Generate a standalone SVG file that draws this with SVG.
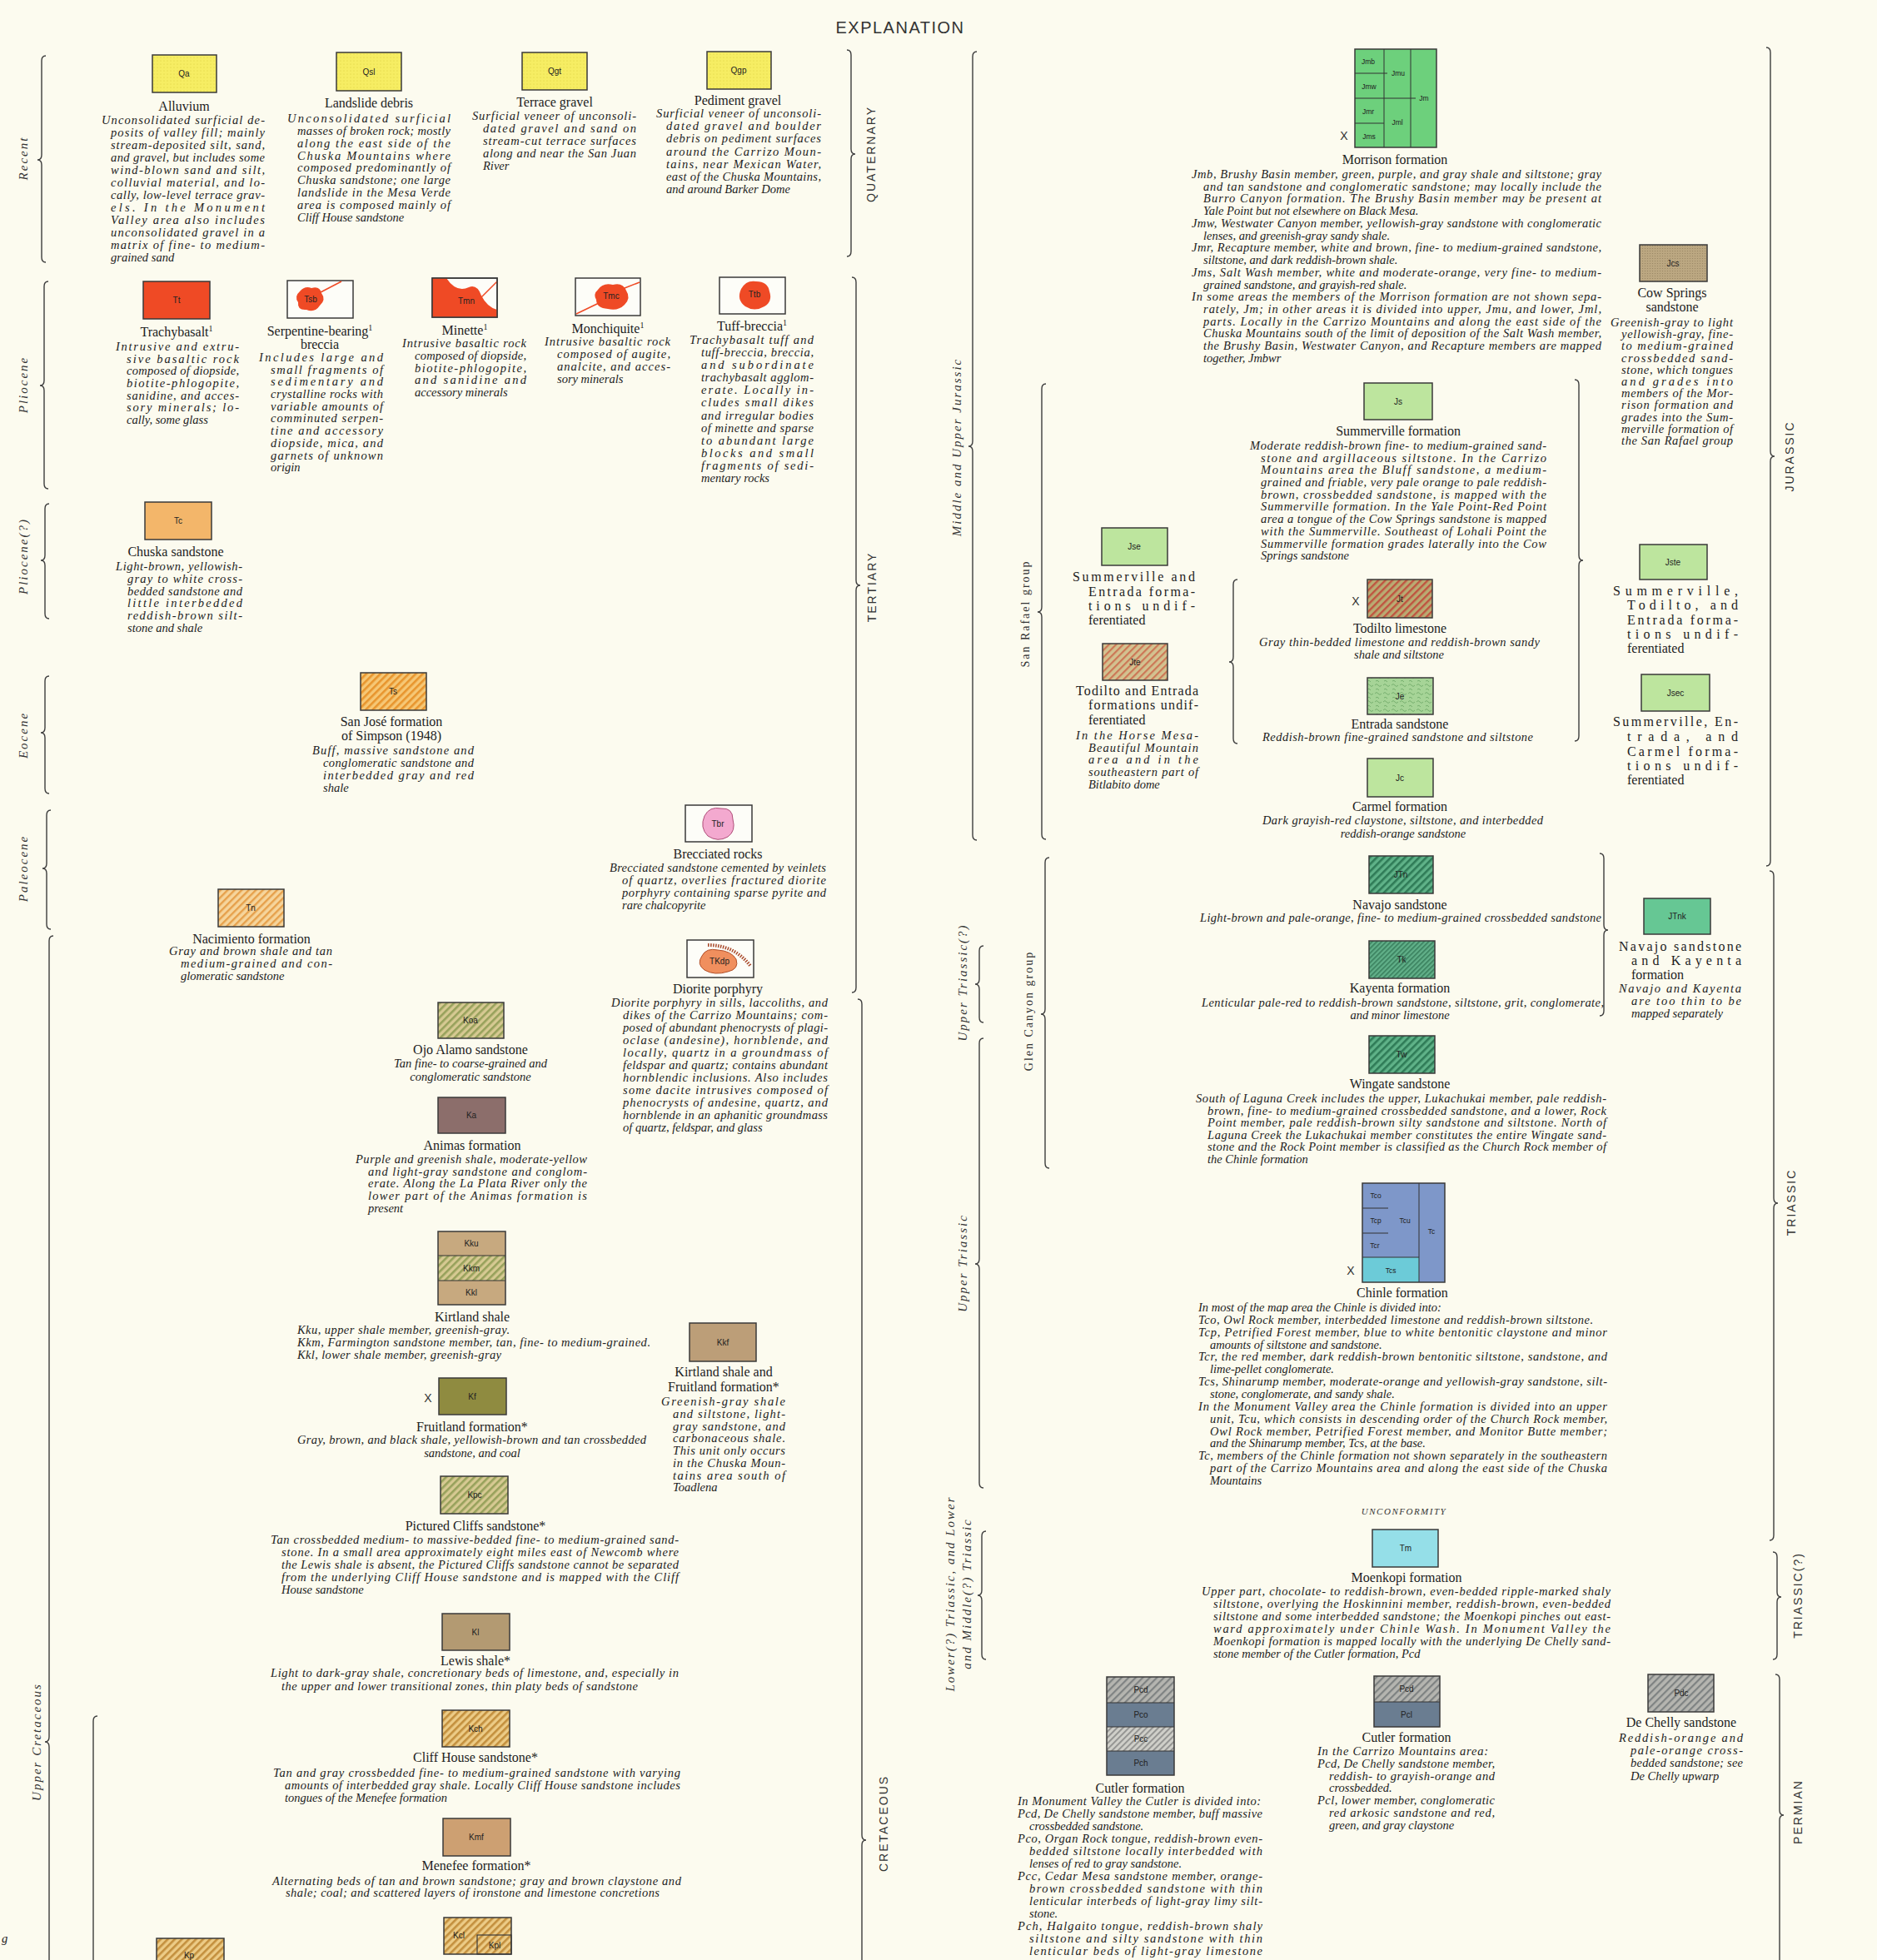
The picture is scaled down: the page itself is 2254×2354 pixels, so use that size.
<svg xmlns="http://www.w3.org/2000/svg" width="2254" height="2354" viewBox="0 0 2254 2354">
<style>
.t{font-family:"Liberation Serif",serif;font-size:16px;fill:#222;text-anchor:middle}
.tl{font-family:"Liberation Serif",serif;font-size:16px;fill:#222}
.d{font-family:"Liberation Serif",serif;font-style:italic;font-size:14.5px;fill:#222}
.dc{font-family:"Liberation Serif",serif;font-style:italic;font-size:14.5px;fill:#222;text-anchor:middle}
.lb{font-family:"Liberation Sans",sans-serif;font-size:10px;fill:#222;text-anchor:middle}
.ls{font-family:"Liberation Sans",sans-serif;font-size:8.5px;fill:#222;text-anchor:middle}
.x{font-family:"Liberation Sans",sans-serif;font-size:14px;fill:#333;text-anchor:middle}
.age{font-family:"Liberation Serif",serif;font-style:italic;font-size:15px;letter-spacing:2px;fill:#333;text-anchor:middle}
.per{font-family:"Liberation Sans",sans-serif;font-size:14px;letter-spacing:2px;fill:#333;text-anchor:middle}
.grp{font-family:"Liberation Serif",serif;font-size:14px;letter-spacing:2px;fill:#333;text-anchor:middle}
.br{fill:none;stroke:#3d3d3d;stroke-width:1.4}
.bx{stroke:#3a3a3a;stroke-width:1.5}
.wb{fill:#fdfdf8;stroke:#3a3a3a;stroke-width:1.5}
.ln{stroke:#333;stroke-width:1;fill:none}
.sup{font-size:10px}
.rd{fill:#ef4a25}
</style>
<defs>
<pattern id="pQ" width="4" height="4" patternUnits="userSpaceOnUse"><rect width="4" height="4" fill="#f6ed63"/><circle cx="1" cy="1" r="0.6" fill="#dccf3c"/></pattern>
<pattern id="hTs" width="6" height="6" patternUnits="userSpaceOnUse" patternTransform="rotate(-45)"><rect width="6" height="6" fill="#f6c775"/><rect width="6" height="2.6" fill="#e8952e"/></pattern>
<pattern id="hTn" width="6" height="6" patternUnits="userSpaceOnUse" patternTransform="rotate(-45)"><rect width="6" height="6" fill="#f6d59c"/><rect width="6" height="2.4" fill="#e6a04b"/></pattern>
<pattern id="hKoa" width="6" height="6" patternUnits="userSpaceOnUse" patternTransform="rotate(-45)"><rect width="6" height="6" fill="#d6c992"/><rect width="6" height="2.6" fill="#97a15b"/></pattern>
<pattern id="hKch" width="6" height="6" patternUnits="userSpaceOnUse" patternTransform="rotate(-45)"><rect width="6" height="6" fill="#eccb86"/><rect width="6" height="2.6" fill="#c38f3d"/></pattern>
<pattern id="hJt" width="6" height="6" patternUnits="userSpaceOnUse" patternTransform="rotate(-45)"><rect width="6" height="6" fill="#b9ab72"/><rect width="6" height="2.4" fill="#bf5440"/></pattern>
<pattern id="hJte" width="6" height="6" patternUnits="userSpaceOnUse" patternTransform="rotate(-45)"><rect width="6" height="6" fill="#d3c290"/><rect width="6" height="2.2" fill="#cc7756"/></pattern>
<pattern id="hJn" width="6" height="6" patternUnits="userSpaceOnUse" patternTransform="rotate(-45)"><rect width="6" height="6" fill="#5fb288"/><rect width="6" height="2.6" fill="#2f7b57"/></pattern>
<pattern id="hJk" width="4" height="4" patternUnits="userSpaceOnUse" patternTransform="rotate(-45)"><rect width="4" height="4" fill="#61b089"/><rect width="4" height="1.6" fill="#397f5d"/></pattern>
<pattern id="hPg" width="6" height="6" patternUnits="userSpaceOnUse" patternTransform="rotate(-45)"><rect width="6" height="6" fill="#b5b5b0"/><rect width="6" height="2.2" fill="#7e8282"/></pattern>
<pattern id="hPc" width="5" height="5" patternUnits="userSpaceOnUse" patternTransform="rotate(-45)"><rect width="5" height="5" fill="#cfcfc9"/><rect width="5" height="1.8" fill="#8e8f8d"/></pattern>
<pattern id="pJe" width="10" height="10" patternUnits="userSpaceOnUse"><rect width="10" height="10" fill="#a6d497"/><path d="M1,3 q2,-3 4,0 t4,0 M2,8 q2,-2 4,1" stroke="#6aa663" fill="none" stroke-width="0.8"/></pattern>
<pattern id="pJcs" width="3" height="3" patternUnits="userSpaceOnUse"><rect width="3" height="3" fill="#bba781"/><circle cx="1.5" cy="1.5" r="0.6" fill="#968360"/></pattern>
</defs>
<rect width="2254" height="2354" fill="#fcfbef"/>
<text x="1081" y="40" style="font-family:'Liberation Sans',sans-serif;font-size:20px;letter-spacing:1.5px;fill:#333;text-anchor:middle">EXPLANATION</text>

<g id="connectors">
<path class="br" d="M55,67 Q50,67 50,73 V186 Q50,192 45,192 Q50,192 50,198 V309 Q50,315 55,315"/>
<path class="br" d="M58,338 Q53,338 53,344 V457 Q53,463 48,463 Q53,463 53,469 V581 Q53,587 58,587"/>
<path class="br" d="M59,605 Q54,605 54,611 V667 Q54,673 49,673 Q54,673 54,679 V737 Q54,743 59,743"/>
<path class="br" d="M59,812 Q54,812 54,818 V874 Q54,880 49,880 Q54,880 54,886 V947 Q54,953 59,953"/>
<path class="br" d="M61,973 Q56,973 56,979 V1037 Q56,1043 51,1043 Q56,1043 56,1049 V1110 Q56,1116 61,1116"/>
<path class="br" d="M64,1124 Q59,1124 59,1130 V2086 Q59,2092 54,2092 Q59,2092 59,2098 V2360"/>
<path class="br" d="M117,2061 Q112,2061 112,2067 V2360"/>
<path class="br" d="M1017,60 Q1022,60 1022,66 V179 Q1022,185 1027,185 Q1022,185 1022,191 V302 Q1022,308 1017,308"/>
<path class="br" d="M1023,333 Q1028,333 1028,339 V697 Q1028,703 1033,703 Q1028,703 1028,709 V1186 Q1028,1192 1023,1192"/>
<path class="br" d="M1030,1200 Q1035,1200 1035,1206 V2204 Q1035,2210 1040,2210 Q1035,2210 1035,2216 V2360"/>
<path class="br" d="M1173,62 Q1168,62 1168,68 V530 Q1168,536 1163,536 Q1168,536 1168,542 V1003 Q1168,1009 1173,1009"/>
<path class="br" d="M1181,1136 Q1176,1136 1176,1142 V1176 Q1176,1182 1171,1182 Q1176,1182 1176,1188 V1222 Q1176,1228 1181,1228"/>
<path class="br" d="M1181,1247 Q1176,1247 1176,1253 V1512 Q1176,1518 1171,1518 Q1176,1518 1176,1524 V1781 Q1176,1787 1181,1787"/>
<path class="br" d="M1184,1839 Q1179,1839 1179,1845 V1910 Q1179,1916 1174,1916 Q1179,1916 1179,1922 V1987 Q1179,1993 1184,1993"/>
<path class="br" d="M1256,461 Q1251,461 1251,467 V729 Q1251,735 1246,735 Q1251,735 1251,741 V1002 Q1251,1008 1256,1008"/>
<path class="br" d="M1260,1030 Q1255,1030 1255,1036 V1212 Q1255,1218 1250,1218 Q1255,1218 1255,1224 V1397 Q1255,1403 1260,1403"/>
<path class="br" d="M1486,696 Q1481,696 1481,702 V789 Q1481,795 1476,795 Q1481,795 1481,801 V887 Q1481,893 1486,893"/>
<path class="br" d="M1891,456 Q1896,456 1896,462 V667 Q1896,673 1901,673 Q1896,673 1896,679 V884 Q1896,890 1891,890"/>
<path class="br" d="M1921,1025 Q1926,1025 1926,1031 V1111 Q1926,1117 1931,1117 Q1926,1117 1926,1123 V1214 Q1926,1220 1921,1220"/>
<path class="br" d="M2121,57 Q2126,57 2126,63 V542 Q2126,548 2131,548 Q2126,548 2126,554 V1034 Q2126,1040 2121,1040"/>
<path class="br" d="M2125,1046 Q2130,1046 2130,1052 V1439 Q2130,1445 2135,1445 Q2130,1445 2130,1451 V1844 Q2130,1850 2125,1850"/>
<path class="br" d="M2129,1864 Q2134,1864 2134,1870 V1912 Q2134,1918 2139,1918 Q2134,1918 2134,1924 V1987 Q2134,1993 2129,1993"/>
<path class="br" d="M2132,2011 Q2137,2011 2137,2017 V2174 Q2137,2180 2142,2180 Q2137,2180 2137,2186 V2360"/>
</g>

<g id="age-labels">
<text class="age" transform="translate(28,190) rotate(-90)" dominant-baseline="central">Recent</text>
<text class="age" transform="translate(28,462) rotate(-90)" dominant-baseline="central">Pliocene</text>
<text class="age" transform="translate(28,668) rotate(-90)" dominant-baseline="central">Pliocene(?)</text>
<text class="age" transform="translate(28,883) rotate(-90)" dominant-baseline="central">Eocene</text>
<text class="age" transform="translate(28,1043) rotate(-90)" dominant-baseline="central">Paleocene</text>
<text class="age" transform="translate(44,2092) rotate(-90)" dominant-baseline="central">Upper Cretaceous</text>
<text class="d" x="2" y="2333">g</text>
<text class="per" transform="translate(1046,185) rotate(-90)" dominant-baseline="central">QUATERNARY</text>
<text class="per" transform="translate(1047,705) rotate(-90)" dominant-baseline="central">TERTIARY</text>
<text class="per" transform="translate(1061,2190) rotate(-90)" dominant-baseline="central">CRETACEOUS</text>
<text class="age" transform="translate(1149,537) rotate(-90)" dominant-baseline="central">Middle and Upper Jurassic</text>
<text class="age" transform="translate(1156,1180) rotate(-90)" dominant-baseline="central">Upper Triassic(?)</text>
<text class="age" transform="translate(1156,1517) rotate(-90)" dominant-baseline="central">Upper Triassic</text>
<text class="age" transform="translate(1141,1914) rotate(-90)" dominant-baseline="central">Lower(?) Triassic, and Lower</text>
<text class="age" transform="translate(1161,1914) rotate(-90)" dominant-baseline="central">and Middle(?) Triassic</text>
<text class="grp" transform="translate(1231,737) rotate(-90)" dominant-baseline="central">San Rafael group</text>
<text class="grp" transform="translate(1235,1214) rotate(-90)" dominant-baseline="central">Glen Canyon group</text>
<text class="per" transform="translate(2149,548) rotate(-90)" dominant-baseline="central">JURASSIC</text>
<text class="per" transform="translate(2151,1444) rotate(-90)" dominant-baseline="central">TRIASSIC</text>
<text class="per" transform="translate(2159,1916) rotate(-90)" dominant-baseline="central">TRIASSIC(?)</text>
<text class="per" transform="translate(2159,2176) rotate(-90)" dominant-baseline="central">PERMIAN</text>
</g>

<g id="qa">
<rect class="bx" x="183" y="66" width="77" height="45" fill="url(#pQ)"/><text class="lb" x="221" y="92">Qa</text>
<text class="t" x="221" y="133">Alluvium</text>
<text class="d" x="122" y="149" textLength="196">Unconsolidated surficial de-</text>
<text class="d" x="133" y="164" textLength="185">posits of valley fill; mainly</text>
<text class="d" x="133" y="179" textLength="185">stream-deposited silt, sand,</text>
<text class="d" x="133" y="194" textLength="185">and gravel, but includes some</text>
<text class="d" x="133" y="209" textLength="185">wind-blown sand and silt,</text>
<text class="d" x="133" y="224" textLength="185">colluvial material, and lo-</text>
<text class="d" x="133" y="239" textLength="185">cally, low-level terrace grav-</text>
<text class="d" x="133" y="254" textLength="185">els. In the Monument</text>
<text class="d" x="133" y="269" textLength="185">Valley area also includes</text>
<text class="d" x="133" y="284" textLength="185">unconsolidated gravel in a</text>
<text class="d" x="133" y="299" textLength="185">matrix of fine- to medium-</text>
<text class="d" x="133" y="314">grained sand</text>
</g>
<g id="qsl">
<rect class="bx" x="404" y="63" width="78" height="46" fill="url(#pQ)"/><text class="lb" x="443" y="90">Qsl</text>
<text class="t" x="443" y="129">Landslide debris</text>
<text class="d" x="345" y="147" textLength="196">Unconsolidated surficial</text>
<text class="d" x="357" y="162" textLength="184">masses of broken rock; mostly</text>
<text class="d" x="357" y="177" textLength="184">along the east side of the</text>
<text class="d" x="357" y="192" textLength="184">Chuska Mountains where</text>
<text class="d" x="357" y="206" textLength="184">composed predominantly of</text>
<text class="d" x="357" y="221" textLength="184">Chuska sandstone; one large</text>
<text class="d" x="357" y="236" textLength="184">landslide in the Mesa Verde</text>
<text class="d" x="357" y="251" textLength="184">area is composed mainly of</text>
<text class="d" x="357" y="266">Cliff House sandstone</text>
</g>
<g id="qgt">
<rect class="bx" x="627" y="63" width="78" height="45" fill="url(#pQ)"/><text class="lb" x="666" y="89">Qgt</text>
<text class="t" x="666" y="128">Terrace gravel</text>
<text class="d" x="567" y="144" textLength="197">Surficial veneer of unconsoli-</text>
<text class="d" x="580" y="159" textLength="184">dated gravel and sand on</text>
<text class="d" x="580" y="174" textLength="184">stream-cut terrace surfaces</text>
<text class="d" x="580" y="189" textLength="184">along and near the San Juan</text>
<text class="d" x="580" y="204">River</text>
</g>
<g id="qgp">
<rect class="bx" x="849" y="62" width="77" height="45" fill="url(#pQ)"/><text class="lb" x="887" y="88">Qgp</text>
<text class="t" x="886" y="126">Pediment gravel</text>
<text class="d" x="788" y="141" textLength="198">Surficial veneer of unconsoli-</text>
<text class="d" x="800" y="156" textLength="186">dated gravel and boulder</text>
<text class="d" x="800" y="171" textLength="186">debris on pediment surfaces</text>
<text class="d" x="800" y="187" textLength="186">around the Carrizo Moun-</text>
<text class="d" x="800" y="202" textLength="186">tains, near Mexican Water,</text>
<text class="d" x="800" y="217" textLength="186">east of the Chuska Mountains,</text>
<text class="d" x="800" y="232">and around Barker Dome</text>
</g>

<g id="tt">
<rect class="bx rd" x="172" y="338" width="80" height="45"/><text class="lb" x="212" y="364">Tt</text>
<text class="t" x="212" y="404">Trachybasalt<tspan class="sup" dy="-6">1</tspan></text>
<text class="d" x="139" y="421" textLength="148">Intrusive and extru-</text>
<text class="d" x="152" y="436" textLength="135">sive basaltic rock</text>
<text class="d" x="152" y="450" textLength="135">composed of diopside,</text>
<text class="d" x="152" y="465" textLength="135">biotite-phlogopite,</text>
<text class="d" x="152" y="480" textLength="135">sanidine, and acces-</text>
<text class="d" x="152" y="494" textLength="135">sory minerals; lo-</text>
<text class="d" x="152" y="509">cally, some glass</text>
</g>
<g id="tsb">
<rect class="wb" x="345" y="337" width="79" height="45"/>
<path class="rd" d="M360,350 Q366,343 374,346 Q384,343 386,352 Q392,360 384,367 Q378,376 368,372 Q357,373 358,363 Q353,356 360,350 Z"/>
<path d="M385,351 L410,338" stroke="#ef4a25" stroke-width="1.5"/>
<text class="lb" x="373" y="363">Tsb</text>
<text class="t" x="384" y="403">Serpentine-bearing<tspan class="sup" dy="-6">1</tspan></text>
<text class="t" x="384" y="419">breccia</text>
<text class="d" x="311" y="434" textLength="149">Includes large and</text>
<text class="d" x="325" y="449" textLength="135">small fragments of</text>
<text class="d" x="325" y="463" textLength="135">sedimentary and</text>
<text class="d" x="325" y="478" textLength="135">crystalline rocks with</text>
<text class="d" x="325" y="493" textLength="135">variable amounts of</text>
<text class="d" x="325" y="507" textLength="135">comminuted serpen-</text>
<text class="d" x="325" y="522" textLength="135">tine and accessory</text>
<text class="d" x="325" y="537" textLength="135">diopside, mica, and</text>
<text class="d" x="325" y="552" textLength="135">garnets of unknown</text>
<text class="d" x="325" y="566">origin</text>
</g>
<g id="tmn">
<rect class="wb" x="519" y="334" width="78" height="47"/>
<path class="rd" d="M519,334 L536,334 Q548,352 563,345 Q573,341 578,355 Q585,369 597,372 L597,381 L519,381 Z"/>
<path d="M597,338 L577,358 L596,380" stroke="#ef4a25" stroke-width="1.5" fill="none"/>
<rect x="519" y="334" width="78" height="47" fill="none" class="bx"/>
<text class="lb" x="560" y="365">Tmn</text>
<text class="t" x="558" y="402">Minette<tspan class="sup" dy="-6">1</tspan></text>
<text class="d" x="483" y="417" textLength="149">Intrusive basaltic rock</text>
<text class="d" x="498" y="432" textLength="134">composed of diopside,</text>
<text class="d" x="498" y="447" textLength="134">biotite-phlogopite,</text>
<text class="d" x="498" y="461" textLength="134">and sanidine and</text>
<text class="d" x="498" y="476">accessory minerals</text>
</g>
<g id="tmc">
<rect class="wb" x="691" y="334" width="78" height="45"/>
<path class="rd" d="M718,348 Q724,339 736,342 Q748,339 752,349 Q758,358 750,366 Q742,374 730,371 Q716,370 716,360 Q712,353 718,348 Z"/>
<path d="M692,377 L719,364 M750,346 L768,339" stroke="#ef4a25" stroke-width="1.5"/>
<text class="lb" x="734" y="359">Tmc</text>
<text class="t" x="730" y="400">Monchiquite<tspan class="sup" dy="-6">1</tspan></text>
<text class="d" x="654" y="415" textLength="151">Intrusive basaltic rock</text>
<text class="d" x="669" y="430" textLength="136">composed of augite,</text>
<text class="d" x="669" y="445" textLength="136">analcite, and acces-</text>
<text class="d" x="669" y="460">sory minerals</text>
</g>
<g id="ttb">
<rect class="wb" x="864" y="333" width="79" height="44"/>
<path class="rd" d="M890,347 Q896,336 908,338 Q922,338 924,350 Q928,362 918,368 Q906,375 895,368 Q884,360 890,347 Z"/>
<text class="lb" x="906" y="357">Ttb</text>
<text class="t" x="903" y="397">Tuff-breccia<tspan class="sup" dy="-6">1</tspan></text>
<text class="d" x="828" y="413" textLength="149">Trachybasalt tuff and</text>
<text class="d" x="842" y="428" textLength="135">tuff-breccia, breccia,</text>
<text class="d" x="842" y="443" textLength="135">and subordinate</text>
<text class="d" x="842" y="458" textLength="135">trachybasalt agglom-</text>
<text class="d" x="842" y="473" textLength="135">erate. Locally in-</text>
<text class="d" x="842" y="488" textLength="135">cludes small dikes</text>
<text class="d" x="842" y="504" textLength="135">and irregular bodies</text>
<text class="d" x="842" y="519" textLength="135">of minette and sparse</text>
<text class="d" x="842" y="534" textLength="135">to abundant large</text>
<text class="d" x="842" y="549" textLength="135">blocks and small</text>
<text class="d" x="842" y="564" textLength="135">fragments of sedi-</text>
<text class="d" x="842" y="579">mentary rocks</text>
</g>
<g id="tc">
<rect class="bx" x="174" y="603" width="80" height="45" fill="#f3b66a"/><text class="lb" x="214" y="629">Tc</text>
<text class="t" x="211" y="668">Chuska sandstone</text>
<text class="d" x="139" y="685" textLength="152">Light-brown, yellowish-</text>
<text class="d" x="153" y="700" textLength="138">gray to white cross-</text>
<text class="d" x="153" y="715" textLength="138">bedded sandstone and</text>
<text class="d" x="153" y="729" textLength="138">little interbedded</text>
<text class="d" x="153" y="744" textLength="138">reddish-brown silt-</text>
<text class="d" x="153" y="759">stone and shale</text>
</g>
<g id="ts">
<rect class="bx" x="433" y="808" width="79" height="45" fill="url(#hTs)"/><text class="lb" x="472" y="834">Ts</text>
<text class="t" x="470" y="872">San José formation</text>
<text class="t" x="470" y="889">of Simpson (1948)</text>
<text class="d" x="375" y="906" textLength="194">Buff, massive sandstone and</text>
<text class="d" x="388" y="921" textLength="181">conglomeratic sandstone and</text>
<text class="d" x="388" y="936" textLength="181">interbedded gray and red</text>
<text class="d" x="388" y="951">shale</text>
</g>
<g id="tbr">
<rect class="wb" x="823" y="967" width="80" height="44"/>
<path d="M846,980 Q852,968 866,971 Q880,970 880,984 Q884,998 874,1005 Q862,1012 850,1004 Q840,994 846,980 Z" fill="#f3a9cf" stroke="#b0507a" stroke-width="1"/>
<text class="lb" x="862" y="993">Tbr</text>
<text class="t" x="862" y="1031">Brecciated rocks</text>
<text class="d" x="732" y="1047" textLength="260">Brecciated sandstone cemented by veinlets</text>
<text class="d" x="747" y="1062" textLength="245">of quartz, overlies fractured diorite</text>
<text class="d" x="747" y="1077" textLength="245">porphyry containing sparse pyrite and</text>
<text class="d" x="747" y="1092">rare chalcopyrite</text>
</g>
<g id="tn">
<rect class="bx" x="262" y="1068" width="79" height="45" fill="url(#hTn)"/><text class="lb" x="301" y="1094">Tn</text>
<text class="t" x="302" y="1133">Nacimiento formation</text>
<text class="d" x="203" y="1147" textLength="196">Gray and brown shale and tan</text>
<text class="d" x="217" y="1162" textLength="182">medium-grained and con-</text>
<text class="d" x="217" y="1177">glomeratic sandstone</text>
</g>
<g id="tkdp">
<rect class="wb" x="825" y="1129" width="80" height="45"/>
<path d="M843,1148 Q848,1138 862,1141 Q878,1142 884,1152 Q888,1164 874,1167 Q858,1172 846,1165 Q836,1158 843,1148 Z" fill="#f08f5e" stroke="#b2502a" stroke-width="1"/>
<path d="M850,1135 Q882,1135 901,1160" fill="none" stroke="#a8482a" stroke-width="4" stroke-dasharray="1.5 1.5"/>
<text class="lb" x="864" y="1158">TKdp</text>
<text class="t" x="862" y="1193">Diorite porphyry</text>
<text class="d" x="734" y="1209" textLength="260">Diorite porphyry in sills, laccoliths, and</text>
<text class="d" x="748" y="1224" textLength="246">dikes of the Carrizo Mountains; com-</text>
<text class="d" x="748" y="1239" textLength="246">posed of abundant phenocrysts of plagi-</text>
<text class="d" x="748" y="1254" textLength="246">oclase (andesine), hornblende, and</text>
<text class="d" x="748" y="1269" textLength="246">locally, quartz in a groundmass of</text>
<text class="d" x="748" y="1284" textLength="246">feldspar and quartz; contains abundant</text>
<text class="d" x="748" y="1299" textLength="246">hornblendic inclusions. Also includes</text>
<text class="d" x="748" y="1314" textLength="246">some dacite intrusives composed of</text>
<text class="d" x="748" y="1329" textLength="246">phenocrysts of andesine, quartz, and</text>
<text class="d" x="748" y="1344" textLength="246">hornblende in an aphanitic groundmass</text>
<text class="d" x="748" y="1359">of quartz, feldspar, and glass</text>
</g>
<g id="koa">
<rect class="bx" x="526" y="1204" width="79" height="43" fill="url(#hKoa)"/><text class="lb" x="565" y="1229">Koa</text>
<text class="t" x="565" y="1266">Ojo Alamo sandstone</text>
<text class="dc" x="565" y="1282">Tan fine- to coarse-grained and</text>
<text class="dc" x="565" y="1298">conglomeratic sandstone</text>
</g>
<g id="ka">
<rect class="bx" x="526" y="1318" width="81" height="43" fill="#8c6e6b"/><text class="lb" x="566" y="1343">Ka</text>
<text class="t" x="567" y="1381">Animas formation</text>
<text class="d" x="427" y="1397" textLength="278">Purple and greenish shale, moderate-yellow</text>
<text class="d" x="442" y="1412" textLength="263">and light-gray sandstone and conglom-</text>
<text class="d" x="442" y="1426" textLength="263">erate. Along the La Plata River only the</text>
<text class="d" x="442" y="1441" textLength="263">lower part of the Animas formation is</text>
<text class="d" x="442" y="1456">present</text>
</g>
<g id="kk">
<rect x="526" y="1479" width="81" height="29" fill="#c7a97f"/>
<rect x="526" y="1508" width="81" height="30" fill="url(#hKoa)"/>
<rect x="526" y="1538" width="81" height="29" fill="#c7a97f"/>
<path class="ln" d="M526,1508 H607 M526,1538 H607"/>
<rect class="bx" x="526" y="1479" width="81" height="88" fill="none"/>
<text class="lb" x="566" y="1497">Kku</text><text class="lb" x="566" y="1527">Kkm</text><text class="lb" x="566" y="1556">Kkl</text>
<text class="t" x="567" y="1587">Kirtland shale</text>
<text class="d" x="357" y="1602" textLength="255">Kku, upper shale member, greenish-gray.</text>
<text class="d" x="357" y="1617" textLength="424">Kkm, Farmington sandstone member, tan, fine- to medium-grained.</text>
<text class="d" x="357" y="1632" textLength="245">Kkl, lower shale member, greenish-gray</text>
</g>
<g id="kkf">
<rect class="bx" x="828" y="1589" width="80" height="46" fill="#bc9e78"/><text class="lb" x="868" y="1616">Kkf</text>
<text class="t" x="869" y="1653">Kirtland shale and</text>
<text class="t" x="869" y="1671">Fruitland formation*</text>
<text class="d" x="794" y="1688" textLength="149">Greenish-gray shale</text>
<text class="d" x="808" y="1703" textLength="135">and siltstone, light-</text>
<text class="d" x="808" y="1718" textLength="135">gray sandstone, and</text>
<text class="d" x="808" y="1732" textLength="135">carbonaceous shale.</text>
<text class="d" x="808" y="1747" textLength="135">This unit only occurs</text>
<text class="d" x="808" y="1762" textLength="135">in the Chuska Moun-</text>
<text class="d" x="808" y="1777" textLength="135">tains area south of</text>
<text class="d" x="808" y="1791">Toadlena</text>
</g>
<g id="kf">
<rect class="bx" x="527" y="1655" width="81" height="44" fill="#8f8b40"/><text class="lb" x="567" y="1681">Kf</text>
<text class="x" x="514" y="1684">X</text>
<text class="t" x="567" y="1719">Fruitland formation*</text>
<text class="d" x="357" y="1734" textLength="419">Gray, brown, and black shale, yellowish-brown and tan crossbedded</text>
<text class="dc" x="567" y="1750">sandstone, and coal</text>
</g>
<g id="kpc">
<rect class="bx" x="529" y="1773" width="81" height="45" fill="url(#hKoa)"/><text class="lb" x="570" y="1799">Kpc</text>
<text class="t" x="571" y="1838">Pictured Cliffs sandstone*</text>
<text class="d" x="325" y="1854" textLength="490">Tan crossbedded medium- to massive-bedded fine- to medium-grained sand-</text>
<text class="d" x="338" y="1869" textLength="477">stone. In a small area approximately eight miles east of Newcomb where</text>
<text class="d" x="338" y="1884" textLength="477">the Lewis shale is absent, the Pictured Cliffs sandstone cannot be separated</text>
<text class="d" x="338" y="1899" textLength="477">from the underlying Cliff House sandstone and is mapped with the Cliff</text>
<text class="d" x="338" y="1914">House sandstone</text>
</g>
<g id="kl">
<rect class="bx" x="531" y="1938" width="81" height="44" fill="#b39a72"/><text class="lb" x="571" y="1964">Kl</text>
<text class="t" x="571" y="2000">Lewis shale*</text>
<text class="d" x="325" y="2014" textLength="490">Light to dark-gray shale, concretionary beds of limestone, and, especially in</text>
<text class="d" x="338" y="2030" textLength="428">the upper and lower transitional zones, thin platy beds of sandstone</text>
</g>
<g id="kch">
<rect class="bx" x="531" y="2054" width="81" height="44" fill="url(#hKch)"/><text class="lb" x="571" y="2080">Kch</text>
<text class="t" x="571" y="2116">Cliff House sandstone*</text>
<text class="d" x="328" y="2134" textLength="489">Tan and gray crossbedded fine- to medium-grained sandstone with varying</text>
<text class="d" x="342" y="2149" textLength="475">amounts of interbedded gray shale. Locally Cliff House sandstone includes</text>
<text class="d" x="342" y="2164">tongues of the Menefee formation</text>
</g>
<g id="kmf">
<rect class="bx" x="532" y="2184" width="81" height="45" fill="#cda072"/><text class="lb" x="572" y="2210">Kmf</text>
<text class="t" x="572" y="2246">Menefee formation*</text>
<text class="d" x="327" y="2264" textLength="491">Alternating beds of tan and brown sandstone; gray and brown claystone and</text>
<text class="d" x="343" y="2278" textLength="449">shale; coal; and scattered layers of ironstone and limestone concretions</text>
</g>
<g id="kcl">
<rect class="bx" x="533" y="2303" width="81" height="44" fill="url(#hKch)"/>
<rect x="573" y="2324" width="41" height="23" fill="none" stroke="#3a3a3a" stroke-width="1.2"/>
<text class="lb" x="551" y="2328">Kcl</text><text class="lb" x="594" y="2340">Kpl</text>
</g>
<g id="kp">
<rect class="bx" x="188" y="2328" width="81" height="40" fill="url(#hKch)"/>
<text class="lb" x="227" y="2352">Kp</text>
</g>

<g id="jm">
<rect class="bx" x="1627" y="59" width="98" height="118" fill="#6dd07c"/>
<path class="ln" d="M1662,59 V177 M1694,59 V177 M1627,88 H1666 M1627,118 H1700 M1627,148 H1662"/>
<text class="ls" x="1643" y="77">Jmb</text><text class="ls" x="1644" y="107">Jmw</text><text class="ls" x="1643" y="137">Jmr</text><text class="ls" x="1644" y="167">Jms</text>
<text class="ls" x="1679" y="91">Jmu</text><text class="ls" x="1678" y="150">Jml</text><text class="ls" x="1710" y="121">Jm</text>
<text class="x" x="1614" y="168">X</text>
<text class="t" x="1675" y="197">Morrison formation</text>
<text class="d" x="1431" y="214" textLength="492">Jmb, Brushy Basin member, green, purple, and gray shale and siltstone; gray</text>
<text class="d" x="1445" y="229" textLength="478">and tan sandstone and conglomeratic sandstone; may locally include the</text>
<text class="d" x="1445" y="243" textLength="478">Burro Canyon formation. The Brushy Basin member may be present at</text>
<text class="d" x="1445" y="258">Yale Point but not elsewhere on Black Mesa.</text>
<text class="d" x="1431" y="273" textLength="492">Jmw, Westwater Canyon member, yellowish-gray sandstone with conglomeratic</text>
<text class="d" x="1445" y="288">lenses, and greenish-gray sandy shale.</text>
<text class="d" x="1431" y="302" textLength="492">Jmr, Recapture member, white and brown, fine- to medium-grained sandstone,</text>
<text class="d" x="1445" y="317">siltstone, and dark reddish-brown shale.</text>
<text class="d" x="1431" y="332" textLength="492">Jms, Salt Wash member, white and moderate-orange, very fine- to medium-</text>
<text class="d" x="1445" y="347">grained sandstone, and grayish-red shale.</text>
<text class="d" x="1431" y="361" textLength="492">In some areas the members of the Morrison formation are not shown sepa-</text>
<text class="d" x="1445" y="376" textLength="478">rately, Jm; in other areas it is divided into upper, Jmu, and lower, Jml,</text>
<text class="d" x="1445" y="391" textLength="478">parts. Locally in the Carrizo Mountains and along the east side of the</text>
<text class="d" x="1445" y="405" textLength="478">Chuska Mountains south of the limit of deposition of the Salt Wash member,</text>
<text class="d" x="1445" y="420" textLength="478">the Brushy Basin, Westwater Canyon, and Recapture members are mapped</text>
<text class="d" x="1445" y="435">together, Jmbwr</text>
</g>
<g id="jcs">
<rect class="bx" x="1969" y="294" width="81" height="44" fill="url(#pJcs)"/><text class="lb" x="2009" y="320">Jcs</text>
<text class="t" x="2008" y="357">Cow Springs</text>
<text class="t" x="2008" y="374">sandstone</text>
<text class="d" x="1934" y="392" textLength="147">Greenish-gray to light</text>
<text class="d" x="1947" y="406" textLength="134">yellowish-gray, fine-</text>
<text class="d" x="1947" y="420" textLength="134">to medium-grained</text>
<text class="d" x="1947" y="435" textLength="134">crossbedded sand-</text>
<text class="d" x="1947" y="449" textLength="134">stone, which tongues</text>
<text class="d" x="1947" y="463" textLength="134">and grades into</text>
<text class="d" x="1947" y="477" textLength="134">members of the Mor-</text>
<text class="d" x="1947" y="491" textLength="134">rison formation and</text>
<text class="d" x="1947" y="506" textLength="134">grades into the Sum-</text>
<text class="d" x="1947" y="520" textLength="134">merville formation of</text>
<text class="d" x="1947" y="534" textLength="134">the San Rafael group</text>
</g>
<g id="js">
<rect class="bx" x="1638" y="460" width="82" height="44" fill="#bde59e"/><text class="lb" x="1679" y="486">Js</text>
<text class="t" x="1679" y="523">Summerville formation</text>
<text class="d" x="1501" y="540" textLength="356">Moderate reddish-brown fine- to medium-grained sand-</text>
<text class="d" x="1514" y="555" textLength="343">stone and argillaceous siltstone. In the Carrizo</text>
<text class="d" x="1514" y="569" textLength="343">Mountains area the Bluff sandstone, a medium-</text>
<text class="d" x="1514" y="584" textLength="343">grained and friable, very pale orange to pale reddish-</text>
<text class="d" x="1514" y="599" textLength="343">brown, crossbedded sandstone, is mapped with the</text>
<text class="d" x="1514" y="613" textLength="343">Summerville formation. In the Yale Point-Red Point</text>
<text class="d" x="1514" y="628" textLength="343">area a tongue of the Cow Springs sandstone is mapped</text>
<text class="d" x="1514" y="643" textLength="343">with the Summerville. Southeast of Lohali Point the</text>
<text class="d" x="1514" y="658" textLength="343">Summerville formation grades laterally into the Cow</text>
<text class="d" x="1514" y="672">Springs sandstone</text>
</g>
<g id="jse">
<rect class="bx" x="1323" y="634" width="79" height="45" fill="#bde59e"/><text class="lb" x="1362" y="660">Jse</text>
<text class="tl" x="1288" y="698" textLength="147">Summerville and</text>
<text class="tl" x="1307" y="716" textLength="128">Entrada forma-</text>
<text class="tl" x="1307" y="733" textLength="128">tions undif-</text>
<text class="tl" x="1307" y="750">ferentiated</text>
</g>
<g id="jte">
<rect class="bx" x="1324" y="773" width="78" height="44" fill="url(#hJte)"/><text class="lb" x="1363" y="799">Jte</text>
<text class="tl" x="1292" y="835" textLength="147">Todilto and Entrada</text>
<text class="tl" x="1307" y="852" textLength="132">formations undif-</text>
<text class="tl" x="1307" y="870">ferentiated</text>
<text class="d" x="1292" y="888" textLength="147">In the Horse Mesa-</text>
<text class="d" x="1307" y="903" textLength="132">Beautiful Mountain</text>
<text class="d" x="1307" y="917" textLength="132">area and in the</text>
<text class="d" x="1307" y="932" textLength="132">southeastern part of</text>
<text class="d" x="1307" y="947">Bitlabito dome</text>
</g>
<g id="jt">
<rect class="bx" x="1642" y="696" width="78" height="46" fill="url(#hJt)"/><text class="lb" x="1681" y="723">Jt</text>
<text class="x" x="1628" y="727">X</text>
<text class="t" x="1681" y="760">Todilto limestone</text>
<text class="d" x="1512" y="776" textLength="337">Gray thin-bedded limestone and reddish-brown sandy</text>
<text class="dc" x="1680" y="791">shale and siltstone</text>
</g>
<g id="je">
<rect class="bx" x="1642" y="814" width="79" height="44" fill="url(#pJe)"/><text class="lb" x="1681" y="840">Je</text>
<text class="t" x="1681" y="875">Entrada sandstone</text>
<text class="d" x="1516" y="890" textLength="325">Reddish-brown fine-grained sandstone and siltstone</text>
</g>
<g id="jc">
<rect class="bx" x="1642" y="911" width="79" height="46" fill="#bde59e"/><text class="lb" x="1681" y="938">Jc</text>
<text class="t" x="1681" y="974">Carmel formation</text>
<text class="d" x="1516" y="990" textLength="337">Dark grayish-red claystone, siltstone, and interbedded</text>
<text class="dc" x="1685" y="1006">reddish-orange sandstone</text>
</g>
<g id="jste">
<rect class="bx" x="1969" y="654" width="81" height="42" fill="#bde59e"/><text class="lb" x="2009" y="679">Jste</text>
<text class="tl" x="1937" y="715" textLength="150">Summerville,</text>
<text class="tl" x="1954" y="732" textLength="133">Todilto, and</text>
<text class="tl" x="1954" y="750" textLength="133">Entrada forma-</text>
<text class="tl" x="1954" y="767" textLength="133">tions undif-</text>
<text class="tl" x="1954" y="784">ferentiated</text>
</g>
<g id="jsec">
<rect class="bx" x="1971" y="810" width="82" height="44" fill="#bde59e"/><text class="lb" x="2012" y="836">Jsec</text>
<text class="tl" x="1937" y="872" textLength="150">Summerville, En-</text>
<text class="tl" x="1954" y="890" textLength="133">trada, and</text>
<text class="tl" x="1954" y="908" textLength="133">Carmel forma-</text>
<text class="tl" x="1954" y="925" textLength="133">tions undif-</text>
<text class="tl" x="1954" y="942">ferentiated</text>
</g>

<g id="jn">
<rect class="bx" x="1644" y="1028" width="77" height="45" fill="url(#hJn)"/><text class="lb" x="1682" y="1054">JTn</text>
<text class="t" x="1681" y="1092">Navajo sandstone</text>
<text class="d" x="1441" y="1107" textLength="482">Light-brown and pale-orange, fine- to medium-grained crossbedded sandstone</text>
</g>
<g id="tk">
<rect class="bx" x="1644" y="1130" width="79" height="45" fill="url(#hJk)"/><text class="lb" x="1683" y="1156">Tk</text>
<text class="t" x="1681" y="1192">Kayenta formation</text>
<text class="d" x="1443" y="1209" textLength="483">Lenticular pale-red to reddish-brown sandstone, siltstone, grit, conglomerate,</text>
<text class="dc" x="1681" y="1224">and minor limestone</text>
</g>
<g id="tw">
<rect class="bx" x="1644" y="1244" width="79" height="45" fill="url(#hJn)"/><text class="lb" x="1683" y="1270">Tw</text>
<text class="t" x="1681" y="1307">Wingate sandstone</text>
<text class="d" x="1436" y="1324" textLength="493">South of Laguna Creek includes the upper, Lukachukai member, pale reddish-</text>
<text class="d" x="1450" y="1339" textLength="479">brown, fine- to medium-grained crossbedded sandstone, and a lower, Rock</text>
<text class="d" x="1450" y="1353" textLength="479">Point member, pale reddish-brown silty sandstone and siltstone. North of</text>
<text class="d" x="1450" y="1368" textLength="479">Laguna Creek the Lukachukai member constitutes the entire Wingate sand-</text>
<text class="d" x="1450" y="1382" textLength="479">stone and the Rock Point member is classified as the Church Rock member of</text>
<text class="d" x="1450" y="1397">the Chinle formation</text>
</g>
<g id="jtnk">
<rect class="bx" x="1974" y="1079" width="80" height="43" fill="#66c794"/><text class="lb" x="2014" y="1104">JTnk</text>
<text class="tl" x="1944" y="1142" textLength="147">Navajo sandstone</text>
<text class="tl" x="1959" y="1159" textLength="132">and Kayenta</text>
<text class="tl" x="1959" y="1176">formation</text>
<text class="d" x="1944" y="1192" textLength="147">Navajo and Kayenta</text>
<text class="d" x="1959" y="1207" textLength="132">are too thin to be</text>
<text class="d" x="1959" y="1222">mapped separately</text>
</g>

<g id="tcf">
<rect x="1636" y="1421" width="99" height="119" fill="#7e97c9"/>
<rect x="1636" y="1510" width="68" height="30" fill="#6ccbd8"/>
<path class="ln" d="M1704,1421 V1540 M1636,1451 H1667 M1636,1481 H1667 M1636,1510 H1704"/>
<rect class="bx" x="1636" y="1421" width="99" height="119" fill="none"/>
<text class="ls" x="1652" y="1439">Tco</text><text class="ls" x="1652" y="1469">Tcp</text><text class="ls" x="1687" y="1469">Tcu</text>
<text class="ls" x="1651" y="1499">Tcr</text><text class="ls" x="1670" y="1529">Tcs</text><text class="ls" x="1719" y="1482">Tc</text>
<text class="x" x="1622" y="1531">X</text>
<text class="t" x="1684" y="1558">Chinle formation</text>
<text class="d" x="1439" y="1575">In most of the map area the Chinle is divided into:</text>
<text class="d" x="1439" y="1590" textLength="474">Tco, Owl Rock member, interbedded limestone and reddish-brown siltstone.</text>
<text class="d" x="1439" y="1605" textLength="491">Tcp, Petrified Forest member, blue to white bentonitic claystone and minor</text>
<text class="d" x="1453" y="1620">amounts of siltstone and sandstone.</text>
<text class="d" x="1439" y="1634" textLength="491">Tcr, the red member, dark reddish-brown bentonitic siltstone, sandstone, and</text>
<text class="d" x="1453" y="1649">lime-pellet conglomerate.</text>
<text class="d" x="1439" y="1664" textLength="491">Tcs, Shinarump member, moderate-orange and yellowish-gray sandstone, silt-</text>
<text class="d" x="1453" y="1679">stone, conglomerate, and sandy shale.</text>
<text class="d" x="1439" y="1694" textLength="491">In the Monument Valley area the Chinle formation is divided into an upper</text>
<text class="d" x="1453" y="1709" textLength="477">unit, Tcu, which consists in descending order of the Church Rock member,</text>
<text class="d" x="1453" y="1724" textLength="477">Owl Rock member, Petrified Forest member, and Monitor Butte member;</text>
<text class="d" x="1453" y="1738">and the Shinarump member, Tcs, at the base.</text>
<text class="d" x="1439" y="1753" textLength="491">Tc, members of the Chinle formation not shown separately in the southeastern</text>
<text class="d" x="1453" y="1768" textLength="477">part of the Carrizo Mountains area and along the east side of the Chuska</text>
<text class="d" x="1453" y="1783">Mountains</text>
</g>
<text x="1686" y="1819" style="font-family:'Liberation Serif',serif;font-style:italic;font-size:11px;letter-spacing:1.5px;fill:#333;text-anchor:middle">UNCONFORMITY</text>
<g id="tm">
<rect class="bx" x="1648" y="1837" width="79" height="45" fill="#95dfe8"/><text class="lb" x="1688" y="1863">Tm</text>
<text class="t" x="1689" y="1900">Moenkopi formation</text>
<text class="d" x="1443" y="1916" textLength="491">Upper part, chocolate- to reddish-brown, even-bedded ripple-marked shaly</text>
<text class="d" x="1457" y="1931" textLength="477">siltstone, overlying the Hoskinnini member, reddish-brown, even-bedded</text>
<text class="d" x="1457" y="1946" textLength="477">siltstone and some interbedded sandstone; the Moenkopi pinches out east-</text>
<text class="d" x="1457" y="1961" textLength="477">ward approximately under Chinle Wash. In Monument Valley the</text>
<text class="d" x="1457" y="1976" textLength="477">Moenkopi formation is mapped locally with the underlying De Chelly sand-</text>
<text class="d" x="1457" y="1991">stone member of the Cutler formation, Pcd</text>
</g>
<g id="pc-mv">
<rect x="1329" y="2014" width="81" height="31" fill="url(#hPg)"/>
<rect x="1329" y="2045" width="81" height="29" fill="#6a7d91"/>
<rect x="1329" y="2074" width="81" height="29" fill="url(#hPc)"/>
<rect x="1329" y="2103" width="81" height="29" fill="#6a7d91"/>
<path class="ln" d="M1329,2045 H1410 M1329,2074 H1410 M1329,2103 H1410"/>
<rect class="bx" x="1329" y="2014" width="81" height="118" fill="none"/>
<text class="lb" x="1370" y="2033">Pcd</text><text class="lb" x="1370" y="2063">Pco</text><text class="lb" x="1370" y="2092">Pcc</text><text class="lb" x="1370" y="2121">Pch</text>
<text class="t" x="1369" y="2153">Cutler formation</text>
<text class="d" x="1222" y="2168" textLength="292">In Monument Valley the Cutler is divided into:</text>
<text class="d" x="1222" y="2183" textLength="294">Pcd, De Chelly sandstone member, buff massive</text>
<text class="d" x="1236" y="2198">crossbedded sandstone.</text>
<text class="d" x="1222" y="2213" textLength="294">Pco, Organ Rock tongue, reddish-brown even-</text>
<text class="d" x="1236" y="2228" textLength="280">bedded siltstone locally interbedded with</text>
<text class="d" x="1236" y="2243">lenses of red to gray sandstone.</text>
<text class="d" x="1222" y="2258" textLength="294">Pcc, Cedar Mesa sandstone member, orange-</text>
<text class="d" x="1236" y="2273" textLength="280">brown crossbedded sandstone with thin</text>
<text class="d" x="1236" y="2288" textLength="280">lenticular interbeds of light-gray limy silt-</text>
<text class="d" x="1236" y="2303">stone.</text>
<text class="d" x="1222" y="2318" textLength="294">Pch, Halgaito tongue, reddish-brown shaly</text>
<text class="d" x="1236" y="2333" textLength="280">siltstone and silty sandstone with thin</text>
<text class="d" x="1236" y="2348" textLength="280">lenticular beds of light-gray limestone</text>
</g>
<g id="pc-cm">
<rect x="1650" y="2013" width="79" height="31" fill="url(#hPg)"/>
<rect x="1650" y="2044" width="79" height="30" fill="#6a7d91"/>
<path class="ln" d="M1650,2044 H1729"/>
<rect class="bx" x="1650" y="2013" width="79" height="61" fill="none"/>
<text class="lb" x="1689" y="2032">Pcd</text><text class="lb" x="1689" y="2063">Pcl</text>
<text class="t" x="1689" y="2092">Cutler formation</text>
<text class="d" x="1582" y="2108" textLength="205">In the Carrizo Mountains area:</text>
<text class="d" x="1582" y="2123" textLength="213">Pcd, De Chelly sandstone member,</text>
<text class="d" x="1596" y="2138" textLength="199">reddish- to grayish-orange and</text>
<text class="d" x="1596" y="2152">crossbedded.</text>
<text class="d" x="1582" y="2167" textLength="213">Pcl, lower member, conglomeratic</text>
<text class="d" x="1596" y="2182" textLength="199">red arkosic sandstone and red,</text>
<text class="d" x="1596" y="2197">green, and gray claystone</text>
</g>
<g id="pdc">
<rect class="bx" x="1979" y="2011" width="79" height="45" fill="url(#hPg)"/><text class="lb" x="2019" y="2037">Pdc</text>
<text class="t" x="2019" y="2074">De Chelly sandstone</text>
<text class="d" x="1944" y="2092" textLength="149">Reddish-orange and</text>
<text class="d" x="1958" y="2107" textLength="135">pale-orange cross-</text>
<text class="d" x="1958" y="2122" textLength="135">bedded sandstone; see</text>
<text class="d" x="1958" y="2138">De Chelly upwarp</text>
</g>
</svg>
